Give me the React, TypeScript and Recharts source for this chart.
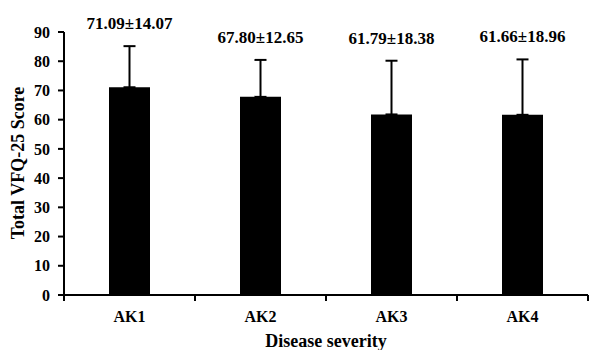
import { BarChart, Bar, ErrorBar, LabelList, XAxis, YAxis, Label } from "recharts";

const groups = ["AK1", "AK2", "AK3", "AK4"];
const means = [71.09, 67.8, 61.79, 61.66];
const sds = [14.07, 12.65, 18.38, 18.96];
const yTicks = [0, 10, 20, 30, 40, 50, 60, 70, 80, 90];

const W = 609;
const H = 350;
const M = { top: 32, right: 21, left: 0, bottom: 0 };
const Y_W = 64;
const X_H = 55;
const HALF_BAND = (W - M.right - Y_W) / groups.length / 2;
const FONT = '"Liberation Serif", "Times New Roman", serif';

const data = groups.map((g, i) => ({
  group: g,
  mean: means[i],
  err: [0, sds[i]],
}));

const XTick = (props: any) => {
  const { x, y, payload, index } = props;
  const axisY = y - 8;
  return (
    <g>
      <line x1={x - HALF_BAND} x2={x - HALF_BAND} y1={axisY} y2={axisY + 6} stroke="#000" strokeWidth={2} />
      {index === groups.length - 1 && (
        <line x1={x + HALF_BAND} x2={x + HALF_BAND} y1={axisY} y2={axisY + 6} stroke="#000" strokeWidth={2} />
      )}
      <text x={x} y={y + 19} textAnchor="middle" fontFamily={FONT} fontWeight="bold" fontSize={16} fill="#000">
        {payload.value}
      </text>
    </g>
  );
};

const ValueLabel = (props: any) => {
  const { x, y, width, height, index } = props;
  const ppu = height / means[index];
  const top = y - sds[index] * ppu;
  return (
    <text x={x + width / 2} y={top - 17} textAnchor="middle" fontFamily={FONT} fontWeight="bold" fontSize={17} fill="#000">
      {`${means[index].toFixed(2)}±${sds[index].toFixed(2)}`}
    </text>
  );
};

export default function App() {
  return (
    <div style={{ position: "absolute", left: 0, top: 0, width: W, height: H, background: "#fff" }}>
      <BarChart width={W} height={H} data={data} margin={M}>
        <XAxis
          dataKey="group"
          height={X_H}
          tickLine={false}
          axisLine={{ stroke: "#000", strokeWidth: 2 }}
          tick={<XTick />}
          interval={0}
        >
          <Label
            content={() => (
              <text x={326} y={347} textAnchor="middle" fontFamily={FONT} fontWeight="bold" fontSize={18} fill="#000">
                Disease severity
              </text>
            )}
          />
        </XAxis>
        <YAxis
          width={Y_W}
          domain={[0, 90]}
          ticks={yTicks}
          interval={0}
          tickSize={6}
          tickMargin={8}
          axisLine={{ stroke: "#000", strokeWidth: 2 }}
          tickLine={{ stroke: "#000", strokeWidth: 2 }}
          tick={{ fontFamily: FONT, fontWeight: "bold", fontSize: 16, fill: "#000" }}
        >
          <Label
            content={() => (
              <text
                x={24}
                y={163}
                transform="rotate(-90, 24, 163)"
                textAnchor="middle"
                fontFamily={FONT}
                fontWeight="bold"
                fontSize={18}
                fill="#000"
              >
                Total VFQ-25 Score
              </text>
            )}
          />
        </YAxis>
        <Bar dataKey="mean" fill="#000" barSize={41} isAnimationActive={false}>
          <ErrorBar dataKey="err" width={6} stroke="#000" strokeWidth={2} direction="y" />
          <LabelList dataKey="mean" content={<ValueLabel />} />
        </Bar>
      </BarChart>
    </div>
  );
}
